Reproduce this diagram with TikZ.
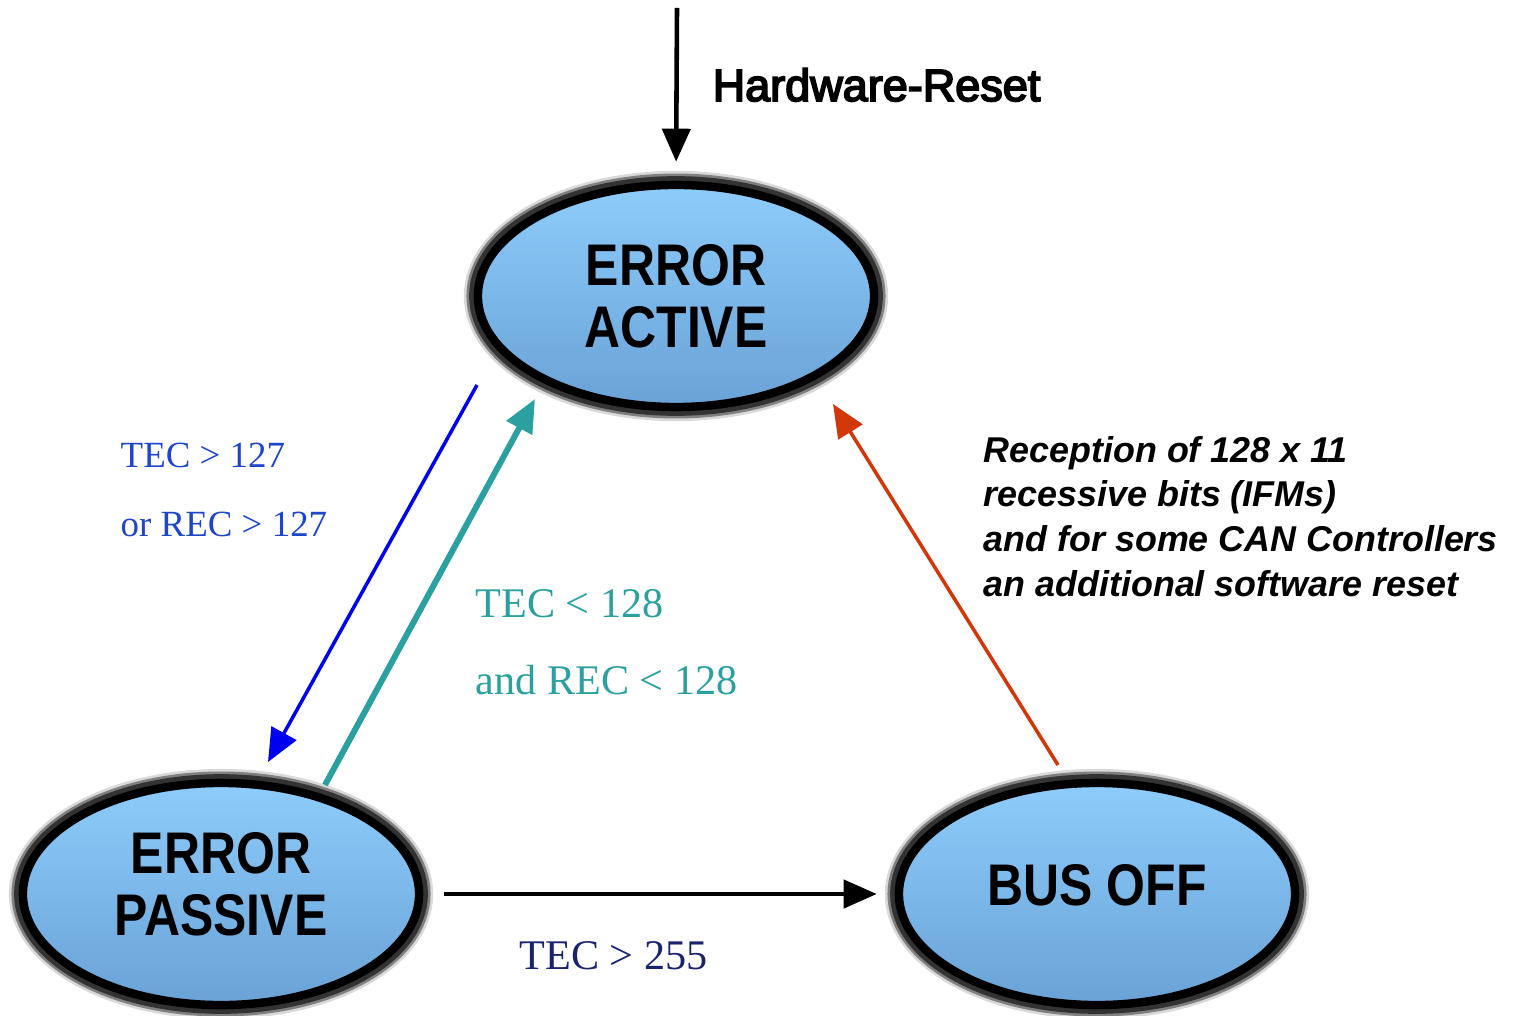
\documentclass[tikz,border=0pt]{standalone}
\usepackage{fontspec}
\setmainfont{Liberation Serif}
\setsansfont{Liberation Sans}
\newfontfamily\statefont{Liberation Sans Bold}[FakeStretch=0.85]
\newfontfamily\notefont{Liberation Sans Bold Italic}
\newfontfamily\resetfont{Liberation Sans}[FakeBold=4]
\usetikzlibrary{shapes.geometric,arrows.meta}
\definecolor{statetop}{RGB}{141,204,251}
\definecolor{statebot}{RGB}{106,162,214}
\definecolor{bluetxt}{RGB}{30,70,205}
\definecolor{bluearrow}{RGB}{0,0,240}
\definecolor{tealc}{RGB}{42,160,160}
\definecolor{redc}{RGB}{210,55,10}
\definecolor{navy}{RGB}{25,35,110}

\begin{document}
\begin{tikzpicture}[x=0.01cm,y=-0.01cm,
  state/.style={ellipse, minimum width=3.96cm, minimum height=2.22cm,
    inner sep=0pt, draw=black, line width=2.4pt,
    top color=statetop, bottom color=statebot,
    preaction={draw=black!15, line width=8pt},
    preaction={draw=black!50, line width=6.5pt},
    preaction={draw=black!80, line width=5pt},
    align=center, font=\statefont\fontsize{16.7}{17.6}\selectfont},
  trans/.style={-{Triangle[length=0.33cm,width=0.28cm]}, line width=1.3pt},
  cond/.style={anchor=base west, inner sep=0pt}]
\useasboundingbox (0,0) rectangle (1513,1016);

\node[state] (active) at (676,296) {ERROR\\ACTIVE};
\node[state, text depth=0.2cm] (passive) at (221,894) {ERROR\\PASSIVE};
\node[state, text depth=0.18cm] (busoff) at (1097,894) {BUS OFF};

\coordinate (hwin) at (677,8);
\coordinate (apout) at (477,385);
\coordinate (ppin) at (268,762);
\coordinate (ppout) at (325,785);
\coordinate (apin) at (535,399);
\coordinate (boout) at (1058,765);
\coordinate (boin) at (833,404);

\draw[trans, shorten >=0.19cm] (hwin) -- (active.north);
\draw[trans, draw=bluearrow, line width=1pt] (apout) -- (ppin);
\draw[trans, draw=tealc, line width=1.7pt] (ppout) -- (apin);
\draw[trans, draw=redc, line width=1pt] (boout) -- (boin);
\draw[trans, shorten <=0.21cm, shorten >=0.18cm] (passive.east) -- (busoff.west);

\node[cond, font=\resetfont\fontsize{12.8}{15}\selectfont] (hwlabel) at (712,101) {Hardware-Reset};
\node[cond, text=bluetxt, font=\fontsize{10.5}{12}\selectfont] (tecgt) at (120,468) {TEC > 127};
\node[cond, text=bluetxt, font=\fontsize{10.5}{12}\selectfont] (recgt) at (120,536) {or REC > 127};
\node[cond, text=tealc, font=\fontsize{12}{14}\selectfont] (teclt) at (475,617) {TEC < 128};
\node[cond, text=tealc, font=\fontsize{12}{14}\selectfont] (reclt) at (475,694) {and REC < 128};
\node[cond, text=navy, font=\fontsize{12}{14}\selectfont] (tecoff) at (519,969) {TEC > 255};
\node[cond, align=left, font=\notefont\fontsize{10.2}{12.66}\selectfont] (recovery) at (983,596)
  {Reception of 128 x 11\\recessive bits (IFMs)\\and for some CAN Controllers\\an additional software reset};
\end{tikzpicture}
\end{document}
